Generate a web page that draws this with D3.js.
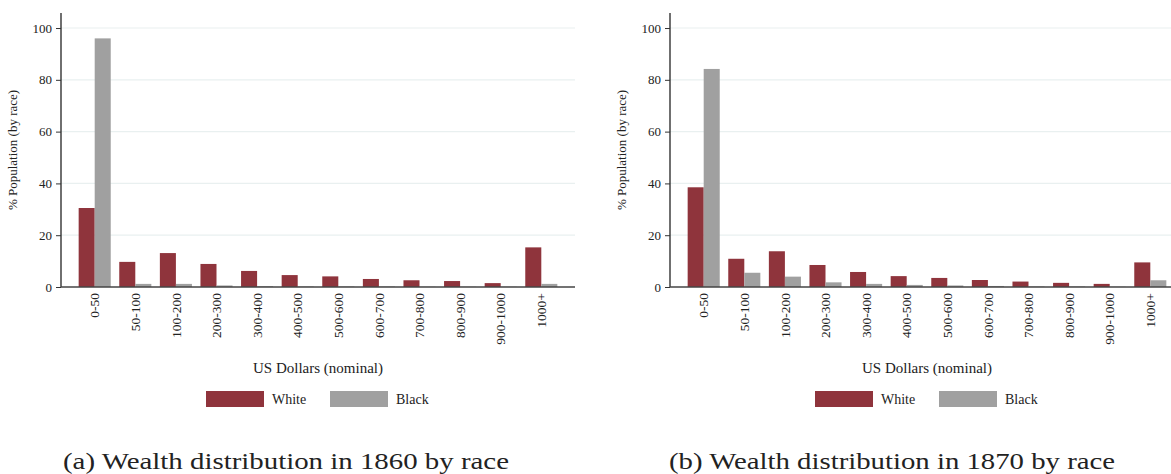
<!DOCTYPE html>
<html>
<head>
<meta charset="utf-8">
<script src="https://cdn.jsdelivr.net/npm/d3@7"></script>
<style>
  html, body { margin: 0; padding: 0; background: #fff; }
  svg { display: block; }
  text { font-family: "Liberation Serif", "Times New Roman", serif; fill: #222; }
</style>
</head>
<body>
<svg id="chart" width="1171" height="474"></svg>
<script>
// Wealth brackets (US dollars, nominal)
const categories = ["0-50", "50-100", "100-200", "200-300", "300-400", "400-500",
  "500-600", "600-700", "700-800", "800-900", "900-1000", "1000+"];
const seriesNames = ["White", "Black"];

// % of population by race in each bracket
const white1860 = [30.5, 9.7, 13.1, 8.9, 6.2, 4.6, 4.1, 3.1, 2.6, 2.3, 1.5, 15.3];
const black1860 = [96.0, 1.2, 1.2, 0.6, 0.3, 0.2, 0.2, 0.2, 0.1, 0.1, 0.1, 1.2];
const white1870 = [38.5, 10.9, 13.8, 8.5, 5.8, 4.2, 3.5, 2.7, 2.1, 1.6, 1.2, 9.5];
const black1870 = [84.2, 5.5, 4.0, 1.8, 1.2, 0.8, 0.6, 0.4, 0.2, 0.2, 0.1, 2.6];

const yTicks = [0, 20, 40, 60, 80, 100];
const captions = ["(a) Wealth distribution in 1860 by race",
                  "(b) Wealth distribution in 1870 by race"];

const colors = { White: "#8f343c", Black: "#a0a0a0" };

const svg = d3.select("#chart");
const plotW = 514, plotTop = 13, plotBottom = 287;

function drawPanel(left, whiteVals, blackVals, caption, captionX) {
  const g = svg.append("g").attr("transform", `translate(${left},0)`);

  const x = d3.scaleBand().domain(categories).range([0, plotW])
    .paddingInner(0.21).paddingOuter(0.435);
  const xs = d3.scaleBand().domain(seriesNames).range([0, x.bandwidth()]);
  const y = d3.scaleLinear().domain([0, 105.8]).range([plotBottom, plotTop]);

  // grid lines
  g.append("g").selectAll("line").data(yTicks.filter(d => d > 0)).join("line")
    .attr("x1", 0).attr("x2", plotW)
    .attr("y1", d => y(d)).attr("y2", d => y(d))
    .attr("stroke", "#e9f0f0").attr("stroke-width", 1.2);

  // bars
  const rows = categories.map((c, i) => ({ c, vals: [
    { s: "White", v: whiteVals[i] }, { s: "Black", v: blackVals[i] }] }));
  g.append("g").selectAll("g").data(rows).join("g")
    .attr("transform", d => `translate(${x(d.c)},0)`)
    .selectAll("rect").data(d => d.vals).join("rect")
    .attr("x", d => xs(d.s)).attr("width", xs.bandwidth())
    .attr("y", d => y(d.v)).attr("height", d => y(0) - y(d.v))
    .attr("fill", d => colors[d.s]);

  // y axis
  const yAxis = g.append("g").call(d3.axisLeft(y).tickValues(yTicks).tickSize(5).tickPadding(4));
  yAxis.select(".domain").attr("stroke", "#222").attr("stroke-width", 1.3)
    .attr("d", `M0,${plotTop}V${plotBottom}`);
  yAxis.selectAll(".tick line").attr("stroke", "#333");
  yAxis.selectAll(".tick text").attr("font-size", 13).attr("fill", "#222");

  // x axis baseline
  g.append("line").attr("x1", 0).attr("x2", plotW)
    .attr("y1", y(0)).attr("y2", y(0))
    .attr("stroke", "#444").attr("stroke-width", 1.5);

  // x tick labels (rotated)
  g.append("g").selectAll("text").data(categories).join("text")
    .attr("transform", d => `translate(${x(d) + x.bandwidth() / 2},${plotBottom + 6}) rotate(-90)`)
    .attr("text-anchor", "end").attr("dy", "0.35em")
    .attr("font-size", 13.5).text(d => d);

  // axis titles
  g.append("text")
    .attr("transform", `translate(-44,${(plotTop + plotBottom) / 2}) rotate(-90)`)
    .attr("text-anchor", "middle").attr("font-size", 13)
    .text("% Population (by race)");
  g.append("text").attr("x", plotW / 2).attr("y", 373)
    .attr("text-anchor", "middle").attr("font-size", 15)
    .text("US Dollars (nominal)");

  // legend
  const lg = g.append("g");
  seriesNames.forEach((s, i) => {
    const lx = 145 + i * 124;
    lg.append("rect").attr("x", lx).attr("y", 391).attr("width", 58).attr("height", 16)
      .attr("fill", colors[s]);
    lg.append("text").attr("x", lx + 66).attr("y", 404)
      .attr("font-size", 14).text(s);
  });

  // caption
  svg.append("text").attr("x", captionX).attr("y", 469)
    .attr("font-size", 23).attr("fill", "#111")
    .attr("textLength", 446).attr("lengthAdjust", "spacingAndGlyphs")
    .text(caption);
}

drawPanel(61, white1860, black1860, captions[0], 63);
drawPanel(670, white1870, black1870, captions[1], 669);
</script>
</body>
</html>
